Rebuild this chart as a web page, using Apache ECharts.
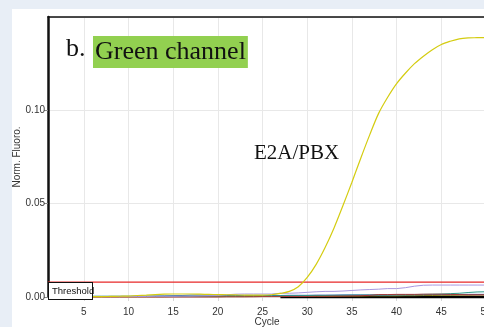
<!DOCTYPE html>
<html><head><meta charset="utf-8">
<script src="https://cdn.jsdelivr.net/npm/echarts@6/dist/echarts.min.js"></script>
<style>html,body{margin:0;padding:0;background:#e8eef6;overflow:hidden;}#c{width:484px;height:327px;}</style>
</head><body><div id="c"></div>
<script>
const cycles = Array.from({length: 50}, (_, i) => i + 1);
const yTicks = ['0.00', '0.05', '0.10'];
const threshold = cycles.map(() => 0.008);
const e2aPbx = [0.0002,0.0002,0.0002,0.0002,0.0002,0.0002,0.0002,0.0003,0.0004,0.0005,
  0.0008,0.001,0.0013,0.0015,0.0016,0.0016,0.0016,0.0015,0.0014,0.0013,
  0.0012,0.0011,0.001,0.001,0.001,0.0012,0.0019,0.003,0.0055,0.0105,
  0.0175,0.0265,0.037,0.049,0.0615,0.0745,0.087,0.0985,0.107,0.1143,
  0.12,0.125,0.129,0.1325,0.1353,0.137,0.1383,0.1388,0.1389,0.139];
const purple = [0.0003,0.0003,0.0003,0.0003,0.0003,0.0003,0.0003,0.0003,0.0003,0.0003,
  0.0003,0.0003,0.0004,0.0004,0.0004,0.0005,0.0005,0.0006,0.0007,0.0008,
  0.0012,0.0015,0.0016,0.0016,0.0016,0.0016,0.002,0.002,0.0022,0.0025,
  0.0028,0.003,0.003,0.0032,0.0035,0.0038,0.004,0.0042,0.0045,0.0045,
  0.005,0.0058,0.0063,0.0064,0.0064,0.0064,0.0064,0.0064,0.0064,0.0064];
const darkRed = [0,0,0,0,0,0,0,0,0,0,
  0,0,0,0,0,0,0,0,0,0,
  0.0001,0.0001,0.0001,0.0001,0.0002,0.0002,0.0002,0.0003,0.0003,0.0003,
  0.0004,0.0004,0.0005,0.0005,0.0006,0.0007,0.0009,0.0013,0.0013,0.0014,
  0.0014,0.0014,0.0015,0.0015,0.0015,0.0014,0.0013,0.0012,0.0012,0.0012];
const teal = [0.0004,0.0004,0.0004,0.0004,0.0004,0.0004,0.0004,0.0004,0.0004,0.0004,
  0.0004,0.0004,0.0004,0.0004,0.0004,0.0004,0.0005,0.0005,0.0005,0.0005,
  0.0005,0.0005,0.0005,0.0006,0.0006,0.0006,0.0007,0.0007,0.0007,0.0008,
  0.0008,0.0008,0.0009,0.0009,0.001,0.001,0.001,0.0011,0.0011,0.0012,
  0.0012,0.0013,0.0014,0.0015,0.0016,0.0018,0.002,0.0024,0.0027,0.0028];
const blue = [0.0003,0.0003,0.0003,0.0003,0.0003,0.0003,0.0003,0.0003,0.0003,0.0003,
  0.0004,0.0004,0.0005,0.0006,0.0007,0.0008,0.001,0.001,0.001,0.0009,
  0.0008,0.0008,0.0008,0.0008,0.0008,0.0008,0.0008,0.0009,0.0009,0.0009,
  0.001,0.001,0.001,0.0011,0.0011,0.0011,0.0011,0.0011,0.0011,0.0012,
  0.0012,0.0012,0.0012,0.0013,0.0013,0.0013,0.0013,0.0014,0.0014,0.0014];
const olive = [0.0001,0.0001,0.0001,0.0001,0.0001,0.0001,0.0001,0.0001,0.0001,0.0001,
  0.0001,0.0001,0.0001,0.0001,0.0002,0.0002,0.0002,0.0002,0.0002,0.0002,
  0.0002,0.0002,0.0002,0.0003,0.0003,0.0003,0.0003,0.0003,0.0003,0.0004,
  0.0004,0.0004,0.0004,0.0005,0.0005,0.0005,0.0006,0.0006,0.0006,0.0006,
  0.0007,0.0007,0.0008,0.0008,0.0009,0.0009,0.001,0.001,0.0011,0.0011];
const black = [null,null,null,null,null,null,null,null,null,null,
  null,null,null,null,null,null,null,null,null,null,
  null,null,null,null,null,null,0,0,0,0,
  0,0,0,0,0,0,0,0,0,0,
  0,0,0,0,0,0,0,0,0,0];

const pair = arr => cycles.map((c, i) => [c, arr[i]]);
function line(name, arr, color, width, z, smooth) {
  return {name, type: 'line', data: pair(arr), symbol: 'none', clip: false, z: z || 2, smooth: smooth || false,
    lineStyle: {color, width: width || 1}, itemStyle: {color}};
}
const chart = echarts.init(document.getElementById('c'), null, {renderer: 'canvas'});
const series = [
  line('black', black, '#000000', 2.5, 1),
  line('olive', olive, '#8a7a10'),
  line('blue', blue, '#2a5fb0'),
  line('teal', teal, '#2a9a8a'),
  line('darkred', darkRed, '#a83a3a'),
  line('purple', purple, '#a898e0'),
  line('Threshold', threshold, '#e82828', 1.2, 4),
  line('E2A/PBX', e2aPbx, '#d4cc10', 1.2, 5, 0.3)
];
chart.setOption({
  backgroundColor: '#e8eef6',
  animation: false,
  grid: {left: 48, top: 17, right: -2, bottom: 30, containLabel: false, outerBoundsMode: 'none'},
  graphic: [
    {type: 'rect', z: -10, silent: true, shape: {x: 12, y: 9, width: 480, height: 330}, style: {fill: '#ffffff'}},
    {type: 'text', z: 50, left: 66, top: 36, style: {text: 'b.', font: '26px "Liberation Serif", serif', fill: '#111'}},
    {type: 'text', z: 50, left: 93, top: 36, style: {text: 'Green channel', font: '26px "Liberation Serif", serif', fill: '#111',
      backgroundColor: '#92d050', padding: [3, 2, 3, 2]}},
    {type: 'text', z: 50, left: 254, top: 143, style: {text: 'E2A/PBX', font: '21px "Liberation Serif", serif', fill: '#111'}},
    {type: 'text', z: 50, left: 48, top: 282, style: {text: 'Threshold', font: '9.5px "Liberation Sans", Arial, sans-serif', fill: '#111',
      backgroundColor: '#ffffff', borderColor: '#111', borderWidth: 1, padding: [3, 2, 3, 3], width: 38}}
  ],
  xAxis: [{
    type: 'value', min: 1, max: 50, splitNumber: 10,
    name: 'Cycle', nameLocation: 'middle', nameGap: 20, nameMoveOverlap: false,
    nameTextStyle: {fontFamily: '"Liberation Sans", Arial, sans-serif', fontSize: 10, color: '#333'},
    axisLine: {show: false},
    axisTick: {show: true, length: 4, lineStyle: {color: '#d8d8d8'}},
    axisLabel: {showMinLabel: false, fontFamily: '"Liberation Sans", Arial, sans-serif', fontSize: 10, color: '#333', margin: 10},
    splitLine: {show: true, lineStyle: {color: '#e8e8e8', width: 1}}
  }, {
    type: 'value', position: 'top', min: 1, max: 50,
    axisLine: {show: true, lineStyle: {color: '#111', width: 1.5}},
    axisTick: {show: false}, axisLabel: {show: false}, splitLine: {show: false}
  }],
  yAxis: {
    type: 'value', min: 0, max: 0.15, interval: 0.05,
    name: 'Norm. Fluoro.', nameLocation: 'middle', nameGap: 26, nameRotate: 90, nameMoveOverlap: false,
    nameTextStyle: {fontFamily: '"Liberation Sans", Arial, sans-serif', fontSize: 10, color: '#333'},
    axisLine: {show: true, lineStyle: {color: '#111', width: 2.5}},
    axisTick: {show: true, length: 4, lineStyle: {color: '#888'}},
    axisLabel: {showMaxLabel: false, fontFamily: '"Liberation Sans", Arial, sans-serif', fontSize: 10, color: '#333', margin: 3,
      formatter: v => yTicks[Math.round(v / 0.05)] || ''},
    splitLine: {show: true, lineStyle: {color: '#e8e8e8', width: 1}}
  },
  series
});
</script></body></html>
